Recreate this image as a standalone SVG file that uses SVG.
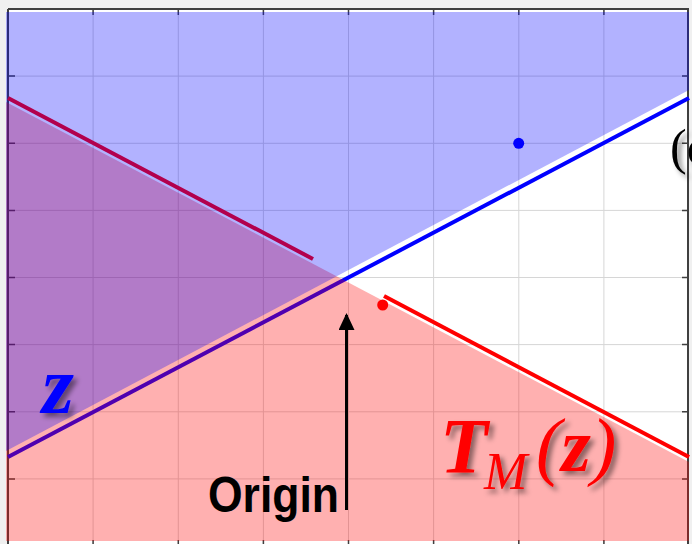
<svg xmlns="http://www.w3.org/2000/svg" width="692" height="544" viewBox="0 0 692 544">
  <defs>
    <style>
      .grid { stroke: #d6d6d6; stroke-width: 1; fill: none; }
      .axis { stroke: #404040; stroke-width: 2; fill: none; }
      .tick { stroke: #404040; stroke-width: 1.5; fill: none; }
      .math { font-family: "Liberation Serif", "DejaVu Serif", serif; font-style: italic; }
    </style>
    <filter id="shadow" x="-20%" y="-20%" width="150%" height="150%">
      <feDropShadow dx="4" dy="4" stdDeviation="2.5" flood-color="#000" flood-opacity="0.45"/>
    </filter>
    <marker id="arrowhead" markerWidth="17" markerHeight="16" refX="15" refY="8" orient="auto" markerUnits="userSpaceOnUse" viewBox="0 0 17 16">
      <polygon points="0,0 17,8 0,16" fill="#000"/>
    </marker>
  </defs>

  <rect x="0" y="0" width="692" height="544" fill="#f0f0f0"/>
  <rect x="8" y="9" width="681" height="535" fill="#ffffff"/>

  <g id="grid">
    <path class="grid" d="M93.1 9V544 M178.3 9V544 M263.4 9V544 M348.5 9V544 M433.6 9V544 M518.8 9V544 M603.9 9V544
                         M8 76.1H689 M8 143.3H689 M8 210.4H689 M8 277.5H689 M8 344.6H689 M8 411.8H689 M8 478.9H689"/>
  </g>

  <g id="axes">
    <path class="axis" d="M8 9H689 M8 9V544 M688 9V544"/>
    <path class="tick" d="M93.1 9v6 M178.3 9v6 M263.4 9v6 M348.5 9v6 M433.6 9v6 M518.8 9v6 M603.9 9v6
                         M93.1 544v-4 M178.3 544v-4 M263.4 544v-4 M348.5 544v-4 M433.6 544v-4 M518.8 544v-4 M603.9 544v-4
                         M8 76.1h7 M8 143.3h7 M8 210.4h7 M8 277.5h7 M8 344.6h7 M8 411.8h7 M8 478.9h7
                         M689 76.1h-7 M689 143.3h-7 M689 210.4h-7 M689 277.5h-7 M689 344.6h-7 M689 411.8h-7 M689 478.9h-7"/>
  </g>

  <g id="boundary-z">
    <line x1="8" y1="457" x2="689" y2="98" stroke="#0000ff" stroke-width="4"/>
  </g>
  <g id="boundary-TMz">
    <line x1="8" y1="98" x2="313" y2="259" stroke="#ff0000" stroke-width="4"/>
    <line x1="384" y1="296" x2="689" y2="457" stroke="#ff0000" stroke-width="4"/>
  </g>

  <g id="region-TMz">
    <polygon points="6,102 689,462 689,541 6,541" fill="#ff0000" fill-opacity="0.31"/>
  </g>
  <g id="region-z">
    <polygon points="6,451 6,12 689,12 689,90" fill="#0000ff" fill-opacity="0.3"/>
  </g>

  <g id="point-blue">
    <circle cx="518.7" cy="143.3" r="5.5" fill="#0000ff"/>
  </g>
  <g id="point-red">
    <circle cx="382.7" cy="305" r="5.5" fill="#ff0000"/>
  </g>

  <g id="connectors">
    <line x1="346.5" y1="510" x2="346.5" y2="315" stroke="#000" stroke-width="3" marker-end="url(#arrowhead)"/>
  </g>

  <g id="label-origin">
    <text x="208" y="512" font-family="Liberation Sans, Arial, sans-serif" font-weight="bold" font-size="50" fill="#000" textLength="131" lengthAdjust="spacingAndGlyphs">Origin</text>
  </g>

  <g id="label-z" filter="url(#shadow)">
    <text class="math" x="42" y="413" font-size="82" font-weight="bold" fill="#0000ff">z</text>
  </g>

  <g id="label-TMz" filter="url(#shadow)">
    <text class="math" y="472" fill="#ff0000"><tspan x="440" font-size="78" font-weight="bold">T</tspan><tspan x="484" y="489" font-size="52">M</tspan><tspan x="536" y="471" font-size="76">(</tspan><tspan font-size="76" font-weight="bold">z</tspan><tspan font-size="76">)</tspan></text>
  </g>

  <g id="label-c" filter="url(#shadow)">
    <text x="670" y="164" font-family="Liberation Serif, DejaVu Serif, serif" font-size="50" fill="#000">(c)</text>
  </g>
</svg>
